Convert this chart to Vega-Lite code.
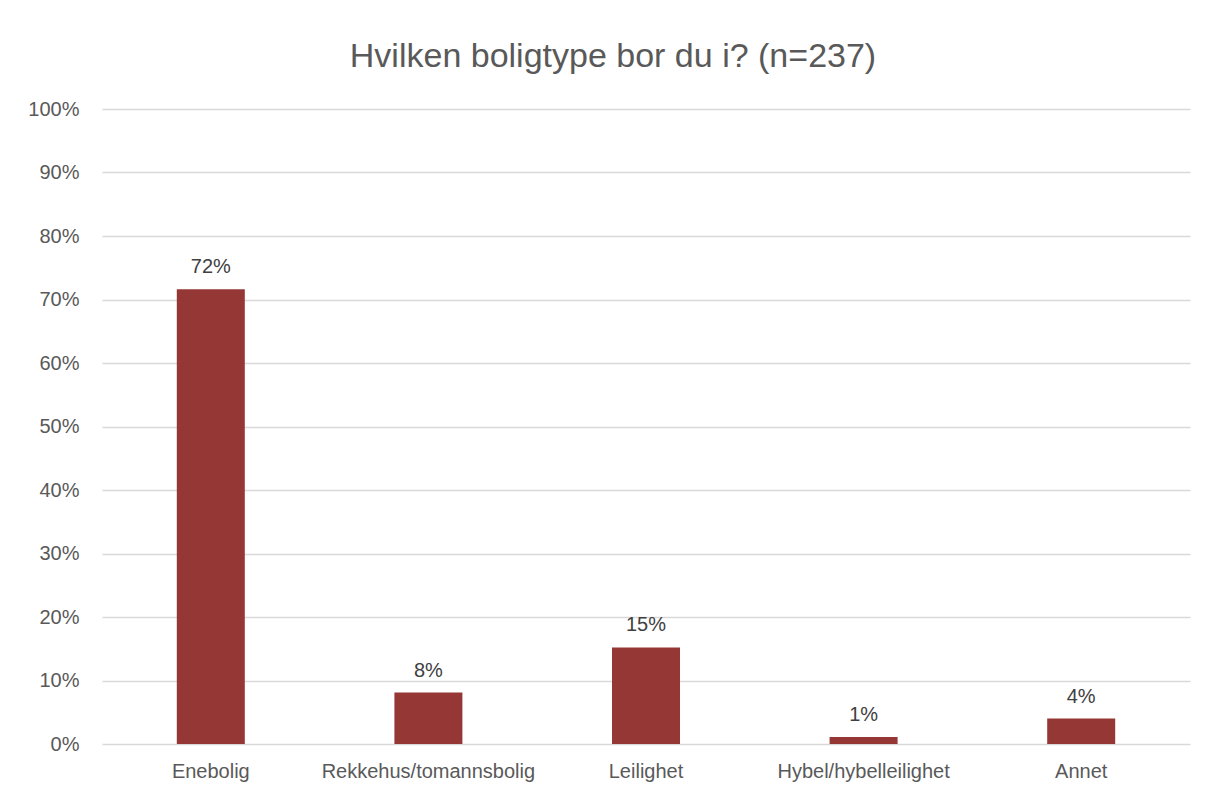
{
  "$schema": "https://vega.github.io/schema/vega-lite/v6.json",
  "width": 1088,
  "height": 635,
  "autosize": {"type": "none"},
  "padding": {"left": 102, "top": 109, "right": 18, "bottom": 49},
  "background": "white",
  "title": {
    "text": "Hvilken boligtype bor du i? (n=237)",
    "font": "Liberation Sans",
    "fontSize": 34,
    "fontWeight": "normal",
    "color": "#595959",
    "anchor": "middle",
    "frame": "group",
    "dx": -33,
    "baseline": "alphabetic",
    "offset": -2
  },
  "data": {
    "values": [
      {"type": "Enebolig", "share": 0.716},
      {"type": "Rekkehus/tomannsbolig", "share": 0.081},
      {"type": "Leilighet", "share": 0.152},
      {"type": "Hybel/hybelleilighet", "share": 0.011},
      {"type": "Annet", "share": 0.04}
    ]
  },
  "encoding": {
    "x": {
      "field": "type",
      "type": "nominal",
      "sort": null,
      "title": null,
      "scale": {"paddingInner": 0.6875, "paddingOuter": 0.34375},
      "axis": {
        "labelAngle": 0,
        "labelFont": "Liberation Sans",
        "labelFontSize": 20,
        "labelColor": "#595959",
        "labelPadding": 17,
        "labelLimit": 0,
        "ticks": false,
        "domain": false,
        "grid": false
      }
    },
    "y": {
      "field": "share",
      "type": "quantitative",
      "title": null,
      "scale": {"domain": [0, 1], "nice": false},
      "axis": {
        "values": [0, 0.1, 0.2, 0.3, 0.4, 0.5, 0.6, 0.7, 0.8, 0.9, 1],
        "format": ".0%",
        "labelFont": "Liberation Sans",
        "labelFontSize": 20,
        "labelColor": "#595959",
        "labelPadding": 23,
        "ticks": false,
        "domain": false,
        "grid": true,
        "gridColor": "#d9d9d9",
        "gridWidth": 1.5
      }
    }
  },
  "layer": [
    {"mark": {"type": "bar", "color": "#953735"}},
    {
      "mark": {
        "type": "text",
        "font": "Liberation Sans",
        "fontSize": 20,
        "color": "#404040",
        "baseline": "alphabetic",
        "dy": -16
      },
      "encoding": {
        "text": {"field": "share", "type": "quantitative", "format": ".0%"}
      }
    }
  ],
  "config": {"view": {"stroke": null}}
}
